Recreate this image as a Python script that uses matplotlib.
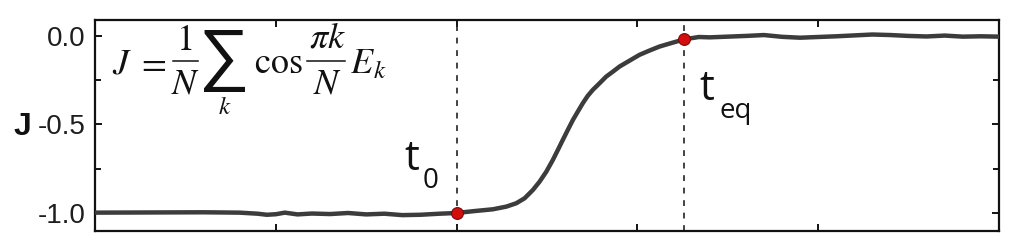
import numpy as np
import matplotlib.pyplot as plt
from matplotlib.lines import Line2D
from matplotlib.patches import PathPatch
from matplotlib.textpath import TextPath
from matplotlib.font_manager import FontProperties
from matplotlib.transforms import Affine2D, IdentityTransform
from matplotlib.ticker import MultipleLocator, NullFormatter

# values
t_flat = [0.0, 0.3, 0.6, 0.8, 0.9, 0.95, 1.0, 1.05, 1.12, 1.2, 1.3, 1.4, 1.5, 1.6, 1.7,
          1.8, 1.906]
J_flat = [-0.998, -0.997, -0.996, -0.998, -1.004, -1.01, -1.007, -0.998, -1.008, -1.003,
          -1.006, -1.0, -1.008, -1.004, -1.012, -1.01, -1.004]
t_rise = [2.0, 2.090, 2.201, 2.275, 2.330, 2.376, 2.422, 2.459, 2.496, 2.532, 2.560, 2.587,
          2.615, 2.643, 2.670, 2.698, 2.725, 2.753, 2.790, 2.827, 2.864, 2.901, 2.956,
          3.011, 3.066, 3.122, 3.195, 3.26]
J_rise = [-1.0, -0.990, -0.979, -0.964, -0.945, -0.917, -0.870, -0.823, -0.767, -0.701,
          -0.644, -0.588, -0.531, -0.475, -0.428, -0.380, -0.339, -0.305, -0.268, -0.230,
          -0.202, -0.173, -0.140, -0.107, -0.083, -0.060, -0.038, -0.019]
t_eq_part = [3.34, 3.4, 3.5, 3.6, 3.7, 3.8, 3.9, 4.0, 4.1, 4.2, 4.3, 4.4, 4.5, 4.6, 4.7,
             4.8, 4.9, 5.0]
J_eq_part = [-0.006, -0.008, -0.004, 0.0, 0.005, -0.005, -0.01, -0.006, -0.002, 0.003,
             0.008, 0.005, 0.0, -0.003, 0.002, -0.004, -0.002, -0.004]

t0 = 2.0
teq = 3.26
J_t0 = -1.0
J_teq = -0.019

t_all = t_flat + t_rise + t_eq_part
J_all = J_flat + J_rise + J_eq_part

W, H = 1011, 240
fig = plt.figure(figsize=(W / 100, H / 100), dpi=100)
ax = fig.add_axes([95/W, 1 - 230.7/H, 904/W, 210.7/H])

ax.plot(t_all, J_all, color='#3c3c3c', lw=3.2, solid_capstyle='round', zorder=3)
ax.axvline(t0, color='#222222', lw=1.2, ls=(0, (3.5, 4)), zorder=2)
ax.axvline(teq, color='#222222', lw=1.2, ls=(0, (3.5, 4)), zorder=2)
ax.plot([t0, teq], [J_t0, J_teq], 'o', ms=8.5, mfc='#d40d0d', mec='#7a0a0a', mew=0.8, zorder=4)

ax.set_xlim(0, 5)
ax.set_ylim(-1.1, 0.09)
ax.xaxis.set_major_locator(MultipleLocator(1))
ax.xaxis.set_major_formatter(NullFormatter())
ax.yaxis.set_minor_locator(MultipleLocator(0.25))
ax.set_yticks([0.0, -0.5, -1.0])
ax.set_yticklabels(['0.0', '-0.5', '-1.0'], family='Liberation Sans', fontsize=20, color='#1e1e1e')
ax.tick_params(which='both', direction='in', top=True, right=True, width=1.3, pad=7)
ax.tick_params(which='major', length=5)
ax.tick_params(which='minor', length=4)
ax.tick_params(axis='x', which='minor', bottom=False, top=False)
for s in ax.spines.values():
    s.set_linewidth(1.6)
    s.set_color('#111111')

# y label
fig.text(14/W, 1 - 135/H, 'J', family='Liberation Sans', weight='bold', fontsize=23,
         color='#111111', va='baseline', ha='left')


# formula, set piece by piece (pixel positions of the reference)
def ftext(px, py, s, size=26, ha='left', va='baseline', **kw):
    fig.text(px / W, 1 - py / H, s, fontsize=size, math_fontfamily='stix',
             ha=ha, va=va, color='#111111', **kw)


def fbar(x1, x2, py):
    fig.add_artist(Line2D([x1 / W, x2 / W], [1 - py / H, 1 - py / H],
                          transform=fig.transFigure, color='#111111', lw=1.1))


ftext(112, 73, r'$J$')
ftext(151, 73, r'$=$', ha='center')
ftext(184, 50, r'$1$', ha='center')
fbar(173, 198, 60.5)
ftext(185, 93, r'$N$', ha='center')

# tall, narrow summation sign: glyph outline stretched into its box (x 204-245, y 30-92)
sig = TextPath((0, 0), '\u2211', size=1, prop=FontProperties(family='Liberation Sans'))
ext = sig.get_extents()
sig_tf = (Affine2D().translate(-ext.x0, -ext.y0)
          .scale(41 / ext.width, 62 / ext.height)
          .translate(204, H - 92))
fig.add_artist(PathPatch(sig_tf.transform_path(sig), transform=IdentityTransform(),
                         facecolor='#111111', edgecolor='none'))

ftext(225, 114, r'$k$', size=18, ha='center')
ftext(254, 73, r'$\mathrm{cos}$')
ftext(327, 47, r'$\pi k$', ha='center')
fbar(307, 345, 60.5)
ftext(327, 93, r'$N$', ha='center')
ftext(350, 73, r'$E$')
ftext(373, 78, r'$k$', size=18)

# t0 / teq labels
ax.text(1.713, -0.757, 't', family='Open Sans', fontsize=30, va='baseline', color='#111111')
ax.text(1.812, -0.859, '0', family='Open Sans', fontsize=20, va='baseline', color='#111111')
ax.text(3.343, -0.362, 't', family='Open Sans', fontsize=30, va='baseline', color='#111111')
ax.text(3.453, -0.463, 'eq', family='Open Sans', fontsize=20, va='baseline', color='#111111')

fig.savefig('out.png', dpi=100)
